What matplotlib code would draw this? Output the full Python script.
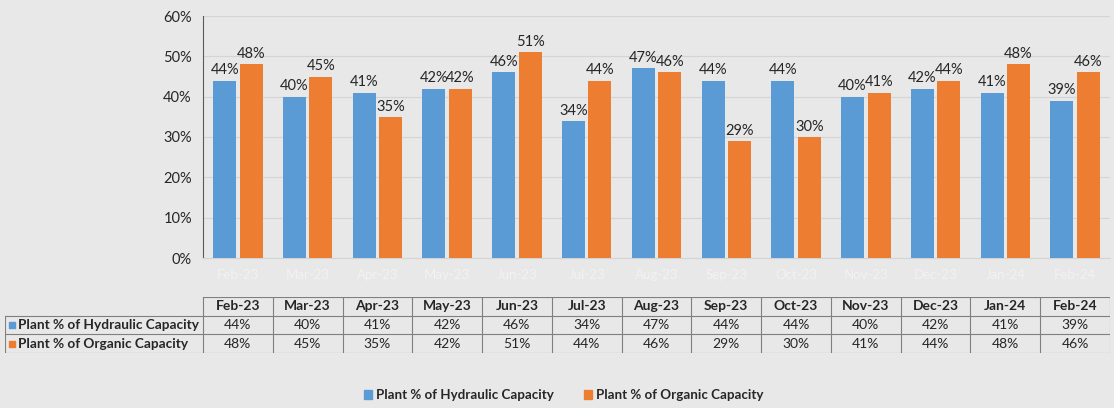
import matplotlib.pyplot as plt
import numpy as np

plt.rcParams['font.family'] = ['Lato', 'DejaVu Sans']

months = ['Feb-23', 'Mar-23', 'Apr-23', 'May-23', 'Jun-23', 'Jul-23', 'Aug-23',
          'Sep-23', 'Oct-23', 'Nov-23', 'Dec-23', 'Jan-24', 'Feb-24']
hydraulic = [44, 40, 41, 42, 46, 34, 47, 44, 44, 40, 42, 41, 39]
organic = [48, 45, 35, 42, 51, 44, 46, 29, 30, 41, 44, 48, 46]
names = ['Plant % of Hydraulic Capacity', 'Plant % of Organic Capacity']

blue = '#5B9BD5'
orange = '#ED7D31'
bg = '#e8e8e8'
txt = '#262626'

W, H = 1114, 408
fig = plt.figure(figsize=(W / 100, H / 100), dpi=100, facecolor=bg)

# main chart
x0, x1 = 203, 1110
ax = fig.add_axes([x0 / W, 1 - 258 / H, (x1 - x0) / W, (258 - 16) / H])
ax.set_facecolor(bg)
x = np.arange(len(months))
w = 0.33
b1 = ax.bar(x - 0.19, hydraulic, w, color=blue, zorder=3)
b2 = ax.bar(x + 0.19, organic, w, color=orange, zorder=3)
for bars, vals in ((b1, hydraulic), (b2, organic)):
    for r, v in zip(bars, vals):
        ax.text(r.get_x() + r.get_width() / 2, v + 0.8, f'{v}%', ha='center',
                va='bottom', fontsize=10.5, color=txt)
ax.set_xlim(-0.5, len(months) - 0.5)
ax.set_ylim(0, 60)
ax.set_yticks(range(0, 61, 10))
ax.set_yticklabels([f'{t}%' for t in range(0, 61, 10)], fontsize=10.5, color=txt)
ax.yaxis.grid(True, color='#d4d4d4', lw=0.8, zorder=0)
ax.set_xticks(x)
ax.set_xticklabels(months, color='#f2f2f2', fontsize=9.5)
ax.tick_params(length=0, pad=8)
for s in ('top', 'right'):
    ax.spines[s].set_visible(False)
ax.spines['left'].set_color('#595959')
ax.spines['bottom'].set_color('#d4d4d4')

# data table
cw = (x1 - x0) / len(months)
lx = 5
tab = fig.add_axes([lx / W, 1 - 353 / H, (x1 - lx) / W, (353 - 297) / H])
tab.set_xlim((lx - x0) / cw - 0.5, len(months) - 0.5)
tab.set_ylim(0, 3)
tab.axis('off')
lc = '#7f7f7f'
left = (lx - x0) / cw - 0.5
for yy in (0, 1, 2):
    tab.plot([left, len(months) - 0.5], [yy, yy], color=lc, lw=0.8)
tab.plot([-0.5, len(months) - 0.5], [3, 3], color=lc, lw=0.8)
tab.plot([left, left], [0, 2], color=lc, lw=0.8)
for i in range(len(months) + 1):
    tab.plot([i - 0.5, i - 0.5], [0, 3], color=lc, lw=0.8)
for i, m in enumerate(months):
    tab.text(i, 2.5, m, ha='center', va='center', fontsize=10, fontweight='bold', color=txt)
    tab.text(i, 1.5, f'{hydraulic[i]}%', ha='center', va='center', fontsize=10, color=txt)
    tab.text(i, 0.5, f'{organic[i]}%', ha='center', va='center', fontsize=10, color=txt)
for yy, nm, c in ((1.5, names[0], blue), (0.5, names[1], orange)):
    tab.scatter([left + 0.1], [yy], marker='s', s=22, color=c)
    tab.text(left + 0.18, yy, nm, ha='left', va='center', fontsize=9.8,
             fontweight='bold', color=txt)

# legend
handles = [plt.Rectangle((0, 0), 1, 1, color=blue), plt.Rectangle((0, 0), 1, 1, color=orange)]
leg = fig.legend(handles, names, loc='center', bbox_to_anchor=(0.506, 1 - 395 / H), ncol=2,
                 frameon=False, fontsize=9.6, handlelength=0.6, handleheight=0.6,
                 handletextpad=0.3, columnspacing=2.2)
for t in leg.get_texts():
    t.set_fontweight('bold')
    t.set_color(txt)

fig.savefig('out.png', dpi=100, facecolor=bg)
